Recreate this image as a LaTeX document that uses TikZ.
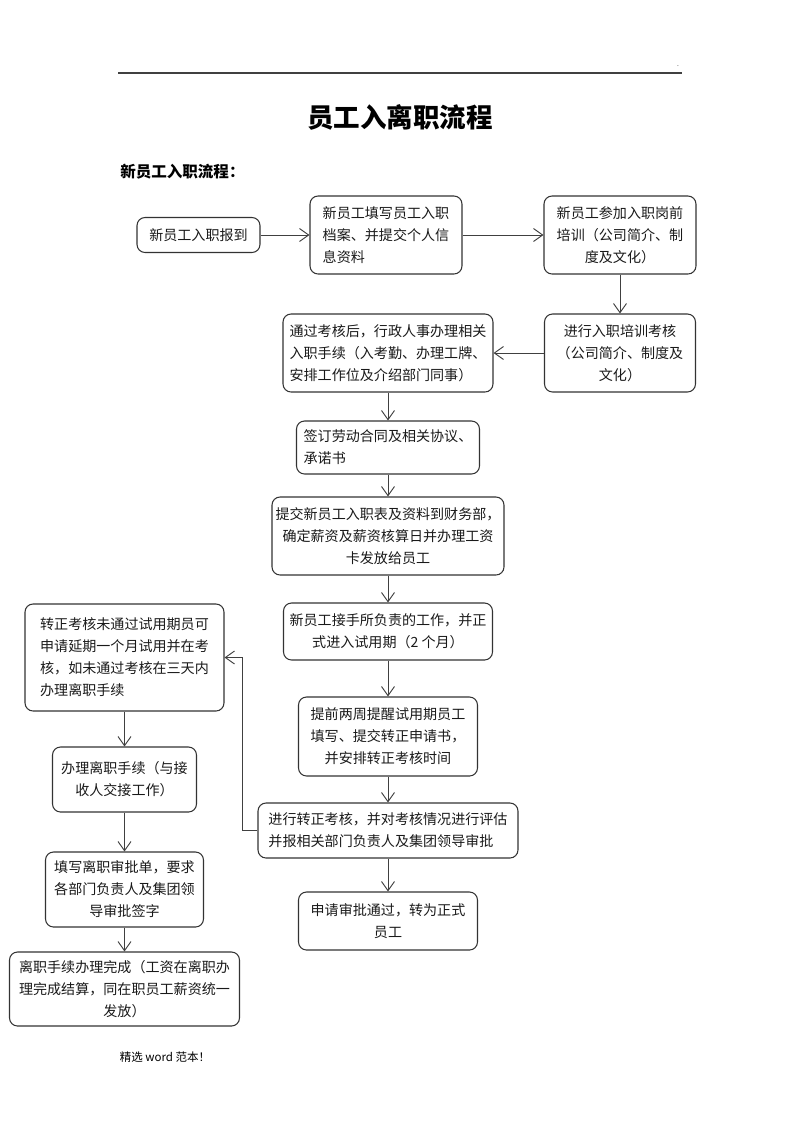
\documentclass[tikz,border=0pt]{standalone}
\usepackage{fontspec}
\setmainfont{Noto Sans CJK SC}
\usetikzlibrary{arrows.meta}
\newlength\pxu
\setlength\pxu{0.02625cm}

\begin{document}
\begin{tikzpicture}[x=0.02625cm, y=-0.02625cm,
    box/.style={draw=black!80, line width=0.8pt, rounded corners=6pt, inner sep=0pt,
      font=\fontsize{10.5}{16.4}\selectfont, text=black!90},
    link/.style={draw=black!75, line width=0.7pt, -{Straight Barb[length=2.4mm,width=3.4mm]}}]
  \useasboundingbox (0,0) rectangle (800,1132);
  \draw[black!75, line width=0.9pt] (118,73) -- (682,73);
  \node (dot) at (678,66) {\fontsize{5}{6}\selectfont .};
  \node (title) at (400,117) {\fontsize{19.8}{22}\selectfont\bfseries 员工入离职流程};
  \node[anchor=west, inner sep=0pt] (sub) at (120,172) {\fontsize{11.6}{13}\selectfont\bfseries 新员工入职流程：};
  % entry
  \node[box, minimum width=123\pxu, minimum height=35\pxu] (A) at (198.5,235) {新员工入职报到};
  \node[box, align=left, minimum width=152\pxu, minimum height=78\pxu] (B) at (386,235) {新员工填写员工入职\\档案、并提交个人信\\息资料};
  \node[box, align=center, minimum width=152\pxu, minimum height=78\pxu] (C) at (620,235) {新员工参加入职岗前\\培训（公司简介、制\\度及文化）};
  \node[box, align=center, minimum width=151\pxu, minimum height=78\pxu] (D) at (620,353) {进行入职培训考核\\（公司简介、制度及\\文化）};
  \node[box, align=left, minimum width=210\pxu, minimum height=78\pxu] (E) at (388,353) {通过考核后，行政人事办理相关\\入职手续（入考勤、办理工牌、\\安排工作位及介绍部门同事）};
  \node[box, align=left, minimum width=183\pxu, minimum height=53\pxu] (F) at (388,447.5) {签订劳动合同及相关协议、\\承诺书};
  \node[box, align=center, minimum width=232\pxu, minimum height=78\pxu] (G) at (388,536) {提交新员工入职表及资料到财务部，\\确定薪资及薪资核算日并办理工资\\卡发放给员工};
  \node[box, align=center, minimum width=209\pxu, minimum height=57\pxu] (H) at (388,631.5) {新员工接手所负责的工作，并正\\式进入试用期（2 个月）};
  \node[box, align=center, minimum width=179\pxu, minimum height=79\pxu] (I) at (388,736.5) {提前两周提醒试用期员工\\填写、提交转正申请书，\\并安排转正考核时间};
  \node[box, align=left, minimum width=260\pxu, minimum height=55\pxu] (J) at (388,830.5) {进行转正考核，并对考核情况进行评估\\并报相关部门负责人及集团领导审批};
  \node[box, align=center, minimum width=179\pxu, minimum height=58\pxu] (K) at (388,921) {申请审批通过，转为正式\\员工};
  % leave
  \node[box, align=left, minimum width=199\pxu, minimum height=107\pxu] (L) at (124.5,657.5) {转正考核未通过试用期员可\\申请延期一个月试用并在考\\核，如未通过考核在三天内\\办理离职手续};
  \node[box, align=center, minimum width=144\pxu, minimum height=65\pxu] (M) at (124.5,779.5) {办理离职手续（与接\\收人交接工作）};
  \node[box, align=center, minimum width=158\pxu, minimum height=75\pxu] (N) at (124.5,889.5) {填写离职审批单，要求\\各部门负责人及集团领\\导审批签字};
  \node[box, align=center, minimum width=230\pxu, minimum height=74\pxu] (O) at (124.5,989) {离职手续办理完成（工资在离职办\\理完成结算，同在职员工薪资统一\\发放）};
  \node (foot) at (165,1057) {\fontsize{8.6}{10}\selectfont 精选 word 范本！};
  % links
  \draw[link] (A) -- (B);
  \draw[link] (B) -- (C);
  \draw[link] (C) -- (D);
  \draw[link] (D) -- (E);
  \draw[link] (E) -- (F);
  \draw[link] (F) -- (G);
  \draw[link] (G) -- (H);
  \draw[link] (H) -- (I);
  \draw[link] (I) -- (J);
  \draw[link] (J) -- (K);
  \coordinate (bend) at (242,830.5);
  \draw[link] (J.west) -- (bend) |- (L.east);
  \draw[link] (L) -- (M);
  \draw[link] (M) -- (N);
  \draw[link] (N) -- (O);
\end{tikzpicture}
\end{document}
